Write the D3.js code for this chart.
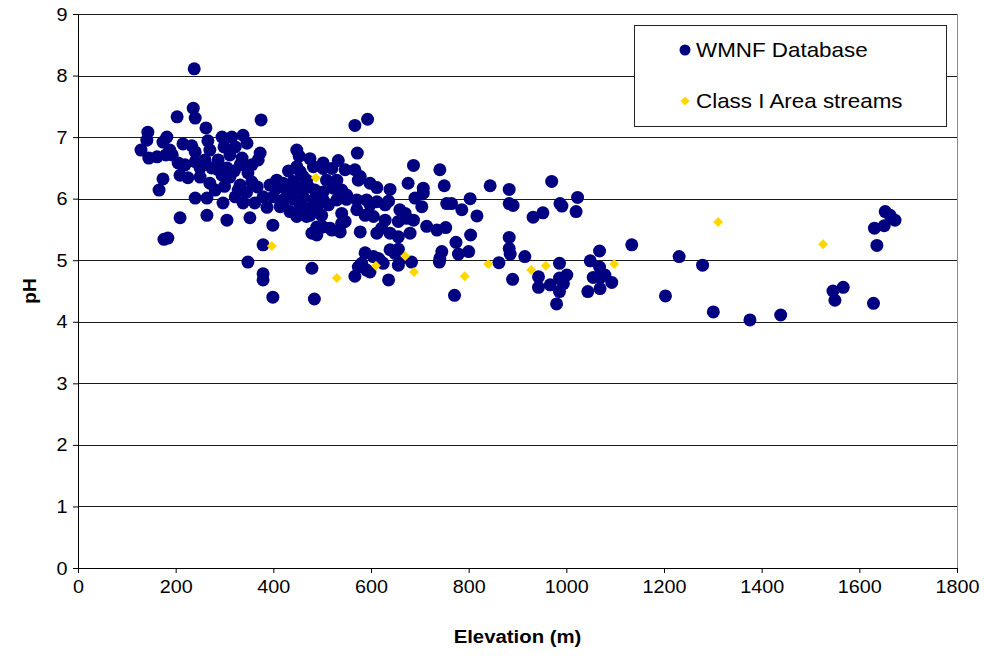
<html>
<head>
<meta charset="utf-8">
<title>pH vs Elevation</title>
<script src="https://d3js.org/d3.v7.min.js" charset="utf-8"></script>
<style>
  body { margin: 0; background: #fff; }
  text { font-family: Arial, "Liberation Sans", sans-serif; }
</style>
</head>
<body>
<div id="chart"></div>
<script>
// [elevation (m), pH]
const wmnfPoints = [
  [129,6.79],[143,7.08],[141,6.95],[145,6.66],[162,6.68],[174,6.92],[182,7.00],[188,6.79],[180,6.71],[193,6.71],
  [203,7.33],[215,6.89],[205,6.58],[219,6.55],[209,6.38],[225,6.34],[174,6.32],[166,6.14],[176,5.34],[184,5.36],
  [209,5.69],[233,6.86],[236,7.47],[240,7.31],[238,8.11],[240,6.76],[240,6.60],[250,6.50],[250,6.35],[240,6.01],
  [262,7.15],[266,6.94],[295,7.00],[315,7.00],[338,7.03],[299,6.84],[322,6.84],[346,6.90],[373,6.74],[311,6.71],
  [336,6.66],[274,6.50],[305,6.50],[295,6.38],[270,6.25],[311,6.35],[264,6.01],[348,6.42],[356,6.27],[367,6.19],
  [297,5.93],[322,6.03],[338,5.93],[362,5.93],[379,6.03],[387,5.86],[264,5.73],[305,5.65],[352,5.69],[399,5.57],
  [379,5.25],[348,4.97],[379,4.78],[379,4.68],[399,4.40],[375,7.28],[281,6.14],[332,6.22],[287,6.63],[260,6.63],
  [356,6.55],[328,6.14],[393,6.22],[369,6.63],[332,6.55],[270,6.79],[285,6.48],[320,6.45],[300,6.20],[345,6.10],
  [427,6.14],[414,5.87],[455,5.87],[468,5.71],[448,5.71],[479,5.44],[489,5.54],[448,6.79],[475,6.65],[448,6.52],
  [453,6.69],[502,6.58],[533,6.62],[431,6.45],[455,6.44],[482,6.52],[502,6.49],[520,6.49],[547,6.47],[567,6.47],
  [578,6.36],[530,6.30],[407,6.30],[420,6.25],[441,6.28],[461,6.36],[509,6.30],[407,6.17],[424,6.17],[438,6.14],
  [455,6.17],[472,6.19],[485,6.14],[502,6.11],[523,6.17],[540,6.14],[550,6.06],[574,6.30],[400,6.03],[420,5.98],
  [441,5.99],[461,6.03],[482,5.98],[502,5.98],[530,5.98],[550,5.99],[571,5.98],[591,5.98],[612,5.95],[636,5.96],
  [420,5.90],[468,5.84],[489,5.87],[513,5.90],[434,5.79],[475,5.73],[499,5.73],[540,5.76],[547,5.63],[571,5.82],
  [598,5.90],[629,5.90],[659,5.82],[673,5.68],[656,5.63],[629,5.65],[605,5.71],[588,5.73],[502,5.54],[520,5.49],
  [537,5.46],[489,5.41],[578,5.46],[612,5.44],[622,5.52],[639,5.44],[656,5.38],[680,5.44],[687,5.65],[588,5.12],
  [605,5.06],[618,5.00],[639,5.17],[656,5.18],[663,5.03],[649,5.11],[683,4.97],[574,4.89],[581,4.95],[591,4.84],
  [598,4.81],[567,4.74],[636,4.68],[615,5.03],[625,4.95],[656,4.92],[479,4.87],[484,4.37],[567,7.19],[593,7.29],
  [572,6.74],[687,6.54],[741,6.47],[844,6.21],[750,6.21],[803,6.00],[676,6.25],[707,6.17],[639,6.15],[612,6.18],
  [598,6.25],[468,6.30],[670,5.76],[704,5.87],[755,5.92],[765,5.92],[786,5.82],[817,5.72],[804,5.41],[774,5.29],
  [800,5.14],[779,5.10],[745,5.14],[741,5.03],[740,4.97],[771,4.43],[714,5.55],[735,5.49],[753,5.53],[540,5.60],
  [516,5.52],[970,6.28],[883,6.15],[707,6.09],[690,6.01],[883,5.92],[891,5.89],[932,5.70],[952,5.77],[987,5.92],
  [991,5.88],[883,5.37],[883,5.19],[885,5.10],[915,5.06],[862,4.96],[890,4.69],[986,4.95],[943,4.73],[967,4.60],
  [943,4.56],[986,4.71],[994,4.62],[1001,4.76],[986,4.49],[980,4.29],[1023,6.02],[1020,5.79],[1049,4.99],[1068,5.15],
  [1068,4.89],[1055,4.72],[1070,4.72],[1079,4.76],[1093,4.64],[1069,4.54],[1044,4.49],[1134,5.25],[1203,4.42],[1231,5.06],
  [1279,4.92],[1301,4.16],[1376,4.03],[1439,4.11],[1546,4.50],[1550,4.35],[1567,4.56],[1629,4.30],[1636,5.24],[1631,5.52],
  [1651,5.56],[1653,5.79],[1663,5.73],[1673,5.65]
];

const classPoints = [
  [397,5.23],[487,6.34],[530,4.71],[610,4.91],[670,5.07],[688,4.81],[792,4.74],
  [840,4.94],[928,4.84],[958,4.91],[1098,4.94],[1311,5.62],[1526,5.26]
];

const xTicks = [0, 200, 400, 600, 800, 1000, 1200, 1400, 1600, 1800];
const yTicks = [0, 1, 2, 3, 4, 5, 6, 7, 8, 9];
const seriesNames = ["WMNF Database", "Class I Area streams"];

const width = 984, height = 656,
  plotLeft = 78, plotRight = 957, plotTop = 14, plotBottom = 568,
  stretchX = 1.04,
  navy = "#000080", gold = "#FFD700";

const x = d3.scaleLinear().domain([0, 1800]).range([plotLeft, plotRight]);
const y = d3.scaleLinear().domain([0, 9]).range([plotBottom, plotTop]);

const svg = d3.select("#chart").append("svg")
  .attr("width", width)
  .attr("height", height);

// horizontal grid lines
svg.append("g")
  .selectAll("line")
  .data(yTicks.filter(d => d > 0))
  .enter()
  .append("line")
  .attr("x1", plotLeft)
  .attr("x2", plotRight)
  .attr("y1", d => Math.round(y(d)) + 0.5)
  .attr("y2", d => Math.round(y(d)) + 0.5)
  .attr("stroke", "#1a1a1a")
  .attr("stroke-width", 1.2);

// right edge of plot area
svg.append("line")
  .attr("x1", plotRight + 0.5).attr("x2", plotRight + 0.5)
  .attr("y1", plotTop).attr("y2", plotBottom)
  .attr("stroke", "#8c8c8c");

// axes
const yAxis = svg.append("g")
  .attr("transform", `translate(${plotLeft},0)`)
  .call(d3.axisLeft(y).tickValues(yTicks).tickFormat(d3.format("d"))
    .tickSize(5).tickSizeOuter(0).tickPadding(5));

const xAxis = svg.append("g")
  .attr("transform", `translate(0,${plotBottom})`)
  .call(d3.axisBottom(x).tickValues(xTicks).tickFormat(d3.format("d"))
    .tickSize(5).tickSizeOuter(0).tickPadding(7));

[yAxis, xAxis].forEach(ax => {
  ax.attr("font-size", 19).attr("font-family", "Arial, 'Liberation Sans', sans-serif");
  ax.selectAll("path, line").attr("stroke", "#000");
  ax.selectAll("text").attr("fill", "#000").attr("transform", `scale(${stretchX},1)`);
});

// axis titles
svg.append("text")
  .attr("transform", `translate(${(plotLeft + plotRight) / 2},643) scale(1.1,1)`)
  .attr("text-anchor", "middle")
  .attr("font-size", 18.5)
  .attr("font-weight", "bold")
  .text("Elevation (m)");

svg.append("text")
  .attr("transform", `translate(36,${(plotTop + plotBottom) / 2}) rotate(-90)`)
  .attr("text-anchor", "middle")
  .attr("font-size", 19)
  .attr("font-weight", "bold")
  .text("pH");

// points
svg.append("g")
  .selectAll("circle")
  .data(wmnfPoints)
  .enter()
  .append("circle")
  .attr("cx", d => x(d[0]))
  .attr("cy", d => y(d[1]))
  .attr("r", 6.5)
  .attr("fill", navy);

const diamond = d3.symbol().type(d3.symbolSquare).size(50);

svg.append("g")
  .selectAll("path")
  .data(classPoints)
  .enter()
  .append("path")
  .attr("d", diamond)
  .attr("transform", d => `translate(${x(d[0])},${y(d[1])}) rotate(45)`)
  .attr("fill", gold);

// legend
const legend = svg.append("g");
legend.append("rect")
  .attr("x", 634.5).attr("y", 25.5)
  .attr("width", 312).attr("height", 101)
  .attr("fill", "#fff")
  .attr("stroke", "#222");

legend.append("circle")
  .attr("cx", 685).attr("cy", 50)
  .attr("r", 5.5)
  .attr("fill", navy);

legend.append("path")
  .attr("d", d3.symbol().type(d3.symbolSquare).size(42))
  .attr("transform", "translate(685,101) rotate(45)")
  .attr("fill", gold);

legend.selectAll("text")
  .data(seriesNames)
  .enter()
  .append("text")
  .attr("transform", (d, i) => `translate(696,${57 + i * 51}) scale(1.12,1)`)
  .attr("font-size", 20)
  .attr("fill", "#000")
  .text(d => d);
</script>
</body>
</html>
